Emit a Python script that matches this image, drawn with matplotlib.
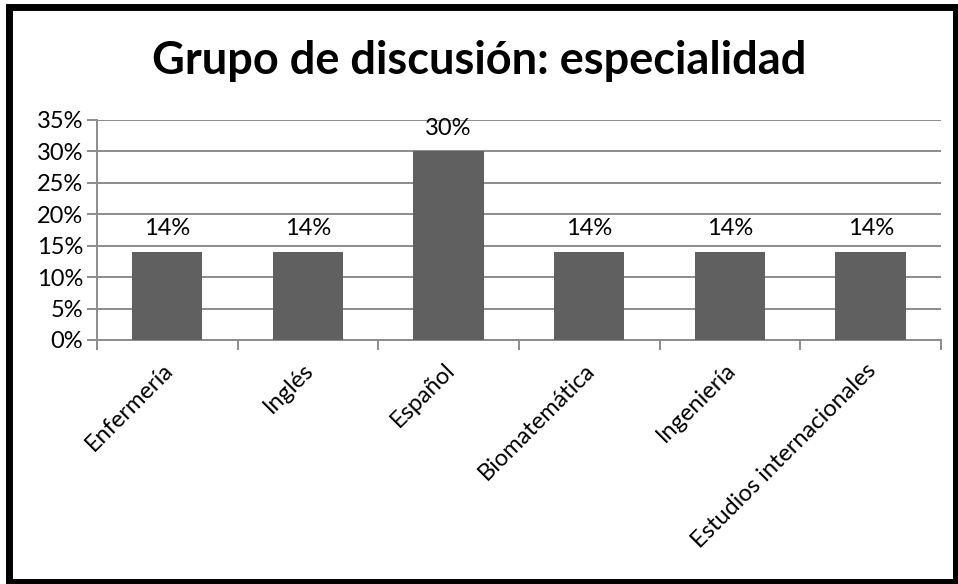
import matplotlib.pyplot as plt
import matplotlib.transforms as mtransforms
from matplotlib.patches import Rectangle
from matplotlib.ticker import FixedLocator, PercentFormatter

especialidades = ['Enfermería', 'Inglés', 'Español', 'Biomatemática',
                  'Ingeniería', 'Estudios internacionales']
porcentajes = [14, 14, 30, 14, 14, 14]
y_ticks = [0, 5, 10, 15, 20, 25, 30, 35]

plt.rcParams['font.family'] = ['Lato', 'DejaVu Sans']
grid_color = '#8c8c8c'
bar_color = '#606060'

fig = plt.figure(figsize=(9.58, 5.84), dpi=100)
ax = fig.add_axes([97 / 958, 1 - 340 / 584, (941 - 97) / 958, 220 / 584])

x = list(range(len(especialidades)))
ax.bar(x, porcentajes, width=0.5, color=bar_color, zorder=3)
for xi, v in zip(x, porcentajes):
    ax.text(xi, v + 2.0, f"{v}%", ha='center', va='bottom', fontsize=17)

ax.set_xlim(-0.5, len(especialidades) - 0.5)
ax.set_ylim(0, 35)
ax.set_yticks(y_ticks)
ax.yaxis.set_major_formatter(PercentFormatter(decimals=0))
ax.grid(axis='y', color=grid_color, linewidth=1.4, zorder=0)

# category boundaries carry the ticks, labels sit at the centres
ax.xaxis.set_major_locator(FixedLocator([i - 0.5 for i in range(len(especialidades) + 1)]))
ax.xaxis.set_minor_locator(FixedLocator(x))
ax.set_xticklabels([])
ax.set_xticklabels(especialidades, minor=True, rotation=45, ha='right',
                   va='top', rotation_mode='anchor', fontsize=17)
ax.tick_params(axis='x', which='major', length=7, color=grid_color, width=1.4)
ax.tick_params(axis='x', which='minor', length=0, pad=14)
ax.tick_params(axis='y', length=7, color=grid_color, width=1.4, labelsize=17, pad=3)

shift = mtransforms.ScaledTranslation(-5 / 100, 0, fig.dpi_scale_trans)
for lbl in ax.get_xticklabels(minor=True):
    lbl.set_transform(lbl.get_transform() + shift)

for side in ['top', 'right']:
    ax.spines[side].set_visible(False)
for side in ['left', 'bottom']:
    ax.spines[side].set_color(grid_color)
    ax.spines[side].set_linewidth(1.4)

fig.text(0.5, 1 - 61 / 584, 'Grupo de discusión: especialidad', ha='center',
         va='center', fontsize=32.5, fontweight='bold')

# heavy frame round the whole chart
fig.patches.append(Rectangle((9 / 958, 2.5 / 584), 946.5 / 958, 575 / 584,
                             transform=fig.transFigure, fill=False,
                             edgecolor='black', linewidth=5))

fig.savefig('out.png', dpi=100)
